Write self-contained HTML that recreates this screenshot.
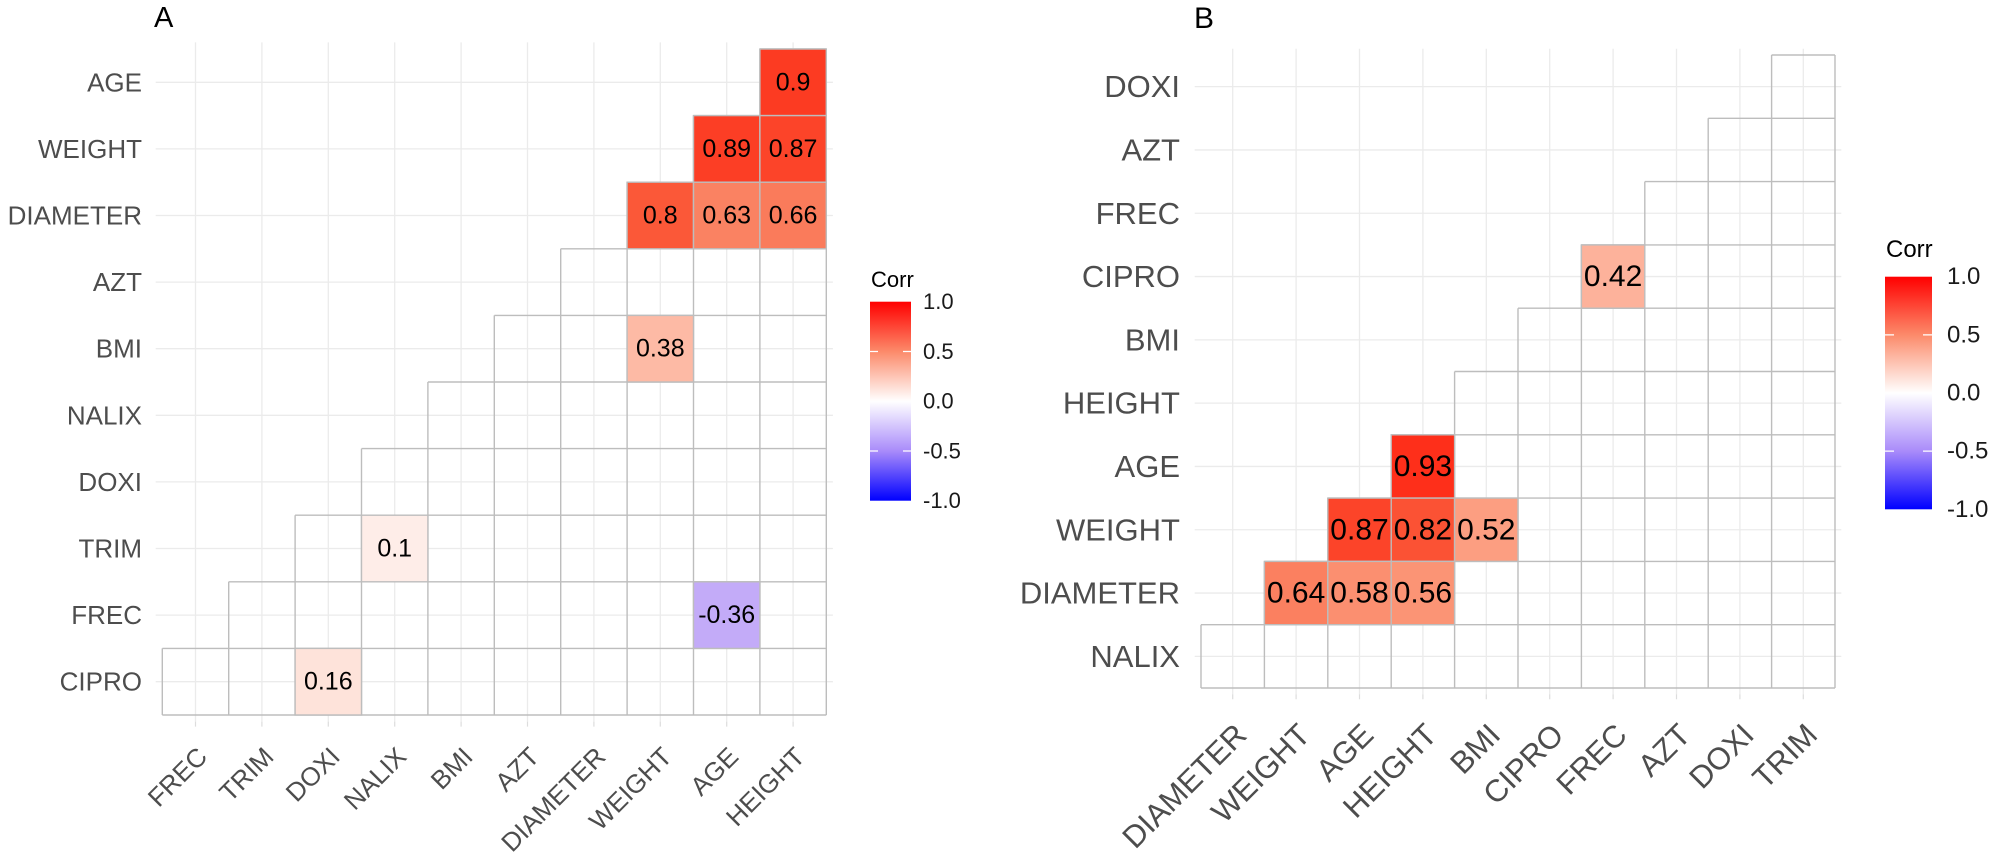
<!DOCTYPE html>
<html><head><meta charset="utf-8"><style>html,body{margin:0;padding:0;background:#fff}svg{display:block}</style></head><body>
<svg width="1990" height="852" viewBox="0 0 1990 852" xmlns="http://www.w3.org/2000/svg" font-family="Liberation Sans, Arial, sans-serif">
<defs>
<linearGradient id="lg" x1="0" y1="0" x2="0" y2="1">
<stop offset="0" stop-color="#ff0000"/><stop offset="0.25" stop-color="#fc8a6a"/><stop offset="0.5" stop-color="#ffffff"/><stop offset="0.75" stop-color="#a98bfa"/><stop offset="1" stop-color="#0000ff"/>
</linearGradient>
</defs>
<rect width="1990" height="852" fill="#fff"/>
<g stroke="#ebebeb" stroke-width="1.3">
<path d="M155.7 82.3H832.9M155.7 148.9H832.9M155.7 215.5H832.9M155.7 282.1H832.9M155.7 348.7H832.9M155.7 415.3H832.9M155.7 481.9H832.9M155.7 548.5H832.9M155.7 615.1H832.9M155.7 681.7H832.9"/>
<path d="M195.5 42.4V721.6M261.9 42.4V721.6M328.3 42.4V721.6M394.7 42.4V721.6M461.1 42.4V721.6M527.5 42.4V721.6M593.9 42.4V721.6M660.3 42.4V721.6M726.7 42.4V721.6M793.1 42.4V721.6"/>
</g>
<g stroke="#dddddd" stroke-width="1.2">
<path d="M195.5 721.6v5M261.9 721.6v5M328.3 721.6v5M394.7 721.6v5M461.1 721.6v5M527.5 721.6v5M593.9 721.6v5M660.3 721.6v5M726.7 721.6v5M793.1 721.6v5"/>
</g>
<g fill="none" stroke="#bdbdbd" stroke-width="1.4">
<path d="M759.9 49H826.3M693.5 115.6H826.3M627.1 182.2H826.3M560.7 248.8H826.3M494.3 315.4H826.3M427.9 382H826.3M361.5 448.6H826.3M295.1 515.2H826.3M228.7 581.8H826.3M162.3 648.4H826.3M162.3 715H826.3"/>
<path d="M162.3 648.4V715M228.7 581.8V715M295.1 515.2V715M361.5 448.6V715M427.9 382V715M494.3 315.4V715M560.7 248.8V715M627.1 182.2V715M693.5 115.6V715M759.9 49V715M826.3 49V715"/>
</g>
<g stroke="#bdbdbd" stroke-width="1.4">
<rect x="759.9" y="49" width="66.4" height="66.6" fill="#fc3b22"/>
<rect x="693.5" y="115.6" width="66.4" height="66.6" fill="#fc3e25"/>
<rect x="759.9" y="115.6" width="66.4" height="66.6" fill="#fc4429"/>
<rect x="627.1" y="182.2" width="66.4" height="66.6" fill="#fb5838"/>
<rect x="693.5" y="182.2" width="66.4" height="66.6" fill="#fa8262"/>
<rect x="759.9" y="182.2" width="66.4" height="66.6" fill="#fa7b5b"/>
<rect x="627.1" y="315.4" width="66.4" height="66.6" fill="#fdbaa5"/>
<rect x="361.5" y="515.2" width="66.4" height="66.6" fill="#feede8"/>
<rect x="693.5" y="581.8" width="66.4" height="66.6" fill="#c3abf8"/>
<rect x="295.1" y="648.4" width="66.4" height="66.6" fill="#fee3da"/>
</g>
<g font-size="25" fill="#000" text-anchor="middle" dominant-baseline="central">
<text x="793.1" y="82.3">0.9</text>
<text x="726.7" y="148.9">0.89</text><text x="793.1" y="148.9">0.87</text>
<text x="660.3" y="215.5">0.8</text><text x="726.7" y="215.5">0.63</text><text x="793.1" y="215.5">0.66</text>
<text x="660.3" y="348.7">0.38</text>
<text x="394.7" y="548.5">0.1</text>
<text x="726.7" y="615.1">-0.36</text>
<text x="328.3" y="681.7">0.16</text>
</g>
<g font-size="26" fill="#4d4d4d" text-anchor="end" dominant-baseline="central">
<text x="142" y="82.3">AGE</text><text x="142" y="148.9">WEIGHT</text><text x="142" y="215.5">DIAMETER</text><text x="142" y="282.1">AZT</text><text x="142" y="348.7">BMI</text><text x="142" y="415.3">NALIX</text><text x="142" y="481.9">DOXI</text><text x="142" y="548.5">TRIM</text><text x="142" y="615.1">FREC</text><text x="142" y="681.7">CIPRO</text>
</g>
<g font-size="26" fill="#4d4d4d" text-anchor="end">
<text transform="translate(195.5,745) rotate(-45)" dy="0.72em">FREC</text>
<text transform="translate(261.9,745) rotate(-45)" dy="0.72em">TRIM</text>
<text transform="translate(328.3,745) rotate(-45)" dy="0.72em">DOXI</text>
<text transform="translate(394.7,745) rotate(-45)" dy="0.72em">NALIX</text>
<text transform="translate(461.1,745) rotate(-45)" dy="0.72em">BMI</text>
<text transform="translate(527.5,745) rotate(-45)" dy="0.72em">AZT</text>
<text transform="translate(593.9,745) rotate(-45)" dy="0.72em">DIAMETER</text>
<text transform="translate(660.3,745) rotate(-45)" dy="0.72em">WEIGHT</text>
<text transform="translate(726.7,745) rotate(-45)" dy="0.72em">AGE</text>
<text transform="translate(793.1,745) rotate(-45)" dy="0.72em">HEIGHT</text>
</g>
<text x="154" y="27" font-size="29" fill="#000">A</text>
<text x="871" y="287" font-size="22" fill="#000">Corr</text>
<rect x="870" y="301.7" width="41" height="199" fill="url(#lg)"/>
<g stroke="#fff" stroke-width="1.3"><path d="M870 351.5h8M903 351.5h8M870 451h8M903 451h8"/></g>
<g font-size="22" fill="#1a1a1a" dominant-baseline="central">
<text x="923" y="301.7">1.0</text><text x="923" y="351.5">0.5</text><text x="923" y="401.2">0.0</text><text x="923" y="451">-0.5</text><text x="923" y="500.7">-1.0</text>
</g>

<g stroke="#ebebeb" stroke-width="1.3">
<path d="M1194.7 86.65H1841.3M1194.7 149.95H1841.3M1194.7 213.25H1841.3M1194.7 276.55H1841.3M1194.7 339.85H1841.3M1194.7 403.15H1841.3M1194.7 466.45H1841.3M1194.7 529.75H1841.3M1194.7 593.05H1841.3M1194.7 656.35H1841.3"/>
<path d="M1232.7 48.7V694.3M1296.1 48.7V694.3M1359.5 48.7V694.3M1422.9 48.7V694.3M1486.3 48.7V694.3M1549.7 48.7V694.3M1613.1 48.7V694.3M1676.5 48.7V694.3M1739.9 48.7V694.3M1803.3 48.7V694.3"/>
</g>
<g stroke="#dddddd" stroke-width="1.2">
<path d="M1232.7 694.3v5M1296.1 694.3v5M1359.5 694.3v5M1422.9 694.3v5M1486.3 694.3v5M1549.7 694.3v5M1613.1 694.3v5M1676.5 694.3v5M1739.9 694.3v5M1803.3 694.3v5"/>
</g>
<g fill="none" stroke="#bdbdbd" stroke-width="1.4">
<path d="M1771.6 55H1835M1708.2 118.3H1835M1644.8 181.6H1835M1581.4 244.9H1835M1518 308.2H1835M1454.6 371.5H1835M1391.2 434.8H1835M1327.8 498.1H1835M1264.4 561.4H1835M1201 624.7H1835M1201 688H1835"/>
<path d="M1201 624.7V688M1264.4 561.4V688M1327.8 498.1V688M1391.2 434.8V688M1454.6 371.5V688M1518 308.2V688M1581.4 244.9V688M1644.8 181.6V688M1708.2 118.3V688M1771.6 55V688M1835 55V688"/>
</g>
<g stroke="#bdbdbd" stroke-width="1.4">
<rect x="1581.4" y="244.9" width="63.4" height="63.3" fill="#fdb29b"/>
<rect x="1391.2" y="434.8" width="63.4" height="63.3" fill="#fe2f1a"/>
<rect x="1327.8" y="498.1" width="63.4" height="63.3" fill="#fc4429"/>
<rect x="1391.2" y="498.1" width="63.4" height="63.3" fill="#fb5234"/>
<rect x="1454.6" y="498.1" width="63.4" height="63.3" fill="#fc9e81"/>
<rect x="1264.4" y="561.4" width="63.4" height="63.3" fill="#fb8060"/>
<rect x="1327.8" y="561.4" width="63.4" height="63.3" fill="#fb8f70"/>
<rect x="1391.2" y="561.4" width="63.4" height="63.3" fill="#fb9475"/>
</g>
<g font-size="30" fill="#000" text-anchor="middle" dominant-baseline="central">
<text x="1613.1" y="276.55">0.42</text>
<text x="1422.9" y="466.45">0.93</text>
<text x="1359.5" y="529.75">0.87</text><text x="1422.9" y="529.75">0.82</text><text x="1486.3" y="529.75">0.52</text>
<text x="1296.1" y="593.05">0.64</text><text x="1359.5" y="593.05">0.58</text><text x="1422.9" y="593.05">0.56</text>
</g>
<g font-size="31" fill="#4d4d4d" text-anchor="end" dominant-baseline="central">
<text x="1180" y="86.65">DOXI</text><text x="1180" y="149.95">AZT</text><text x="1180" y="213.25">FREC</text><text x="1180" y="276.55">CIPRO</text><text x="1180" y="339.85">BMI</text><text x="1180" y="403.15">HEIGHT</text><text x="1180" y="466.45">AGE</text><text x="1180" y="529.75">WEIGHT</text><text x="1180" y="593.05">DIAMETER</text><text x="1180" y="656.35">NALIX</text>
</g>
<g font-size="31" fill="#4d4d4d" text-anchor="end">
<text transform="translate(1232.7,721) rotate(-45)" dy="0.72em">DIAMETER</text>
<text transform="translate(1296.1,721) rotate(-45)" dy="0.72em">WEIGHT</text>
<text transform="translate(1359.5,721) rotate(-45)" dy="0.72em">AGE</text>
<text transform="translate(1422.9,721) rotate(-45)" dy="0.72em">HEIGHT</text>
<text transform="translate(1486.3,721) rotate(-45)" dy="0.72em">BMI</text>
<text transform="translate(1549.7,721) rotate(-45)" dy="0.72em">CIPRO</text>
<text transform="translate(1613.1,721) rotate(-45)" dy="0.72em">FREC</text>
<text transform="translate(1676.5,721) rotate(-45)" dy="0.72em">AZT</text>
<text transform="translate(1739.9,721) rotate(-45)" dy="0.72em">DOXI</text>
<text transform="translate(1803.3,721) rotate(-45)" dy="0.72em">TRIM</text>
</g>
<text x="1194" y="28" font-size="30" fill="#000">B</text>
<text x="1886" y="257" font-size="24" fill="#000">Corr</text>
<rect x="1885" y="276.7" width="47" height="232.6" fill="url(#lg)"/>
<g stroke="#fff" stroke-width="1.3"><path d="M1885 334.9h9M1923 334.9h9M1885 451.1h9M1923 451.1h9"/></g>
<g font-size="24" fill="#1a1a1a" dominant-baseline="central">
<text x="1947" y="276.7">1.0</text><text x="1947" y="334.9">0.5</text><text x="1947" y="393">0.0</text><text x="1947" y="451.1">-0.5</text><text x="1947" y="509.3">-1.0</text>
</g>
</svg>
</body></html>
